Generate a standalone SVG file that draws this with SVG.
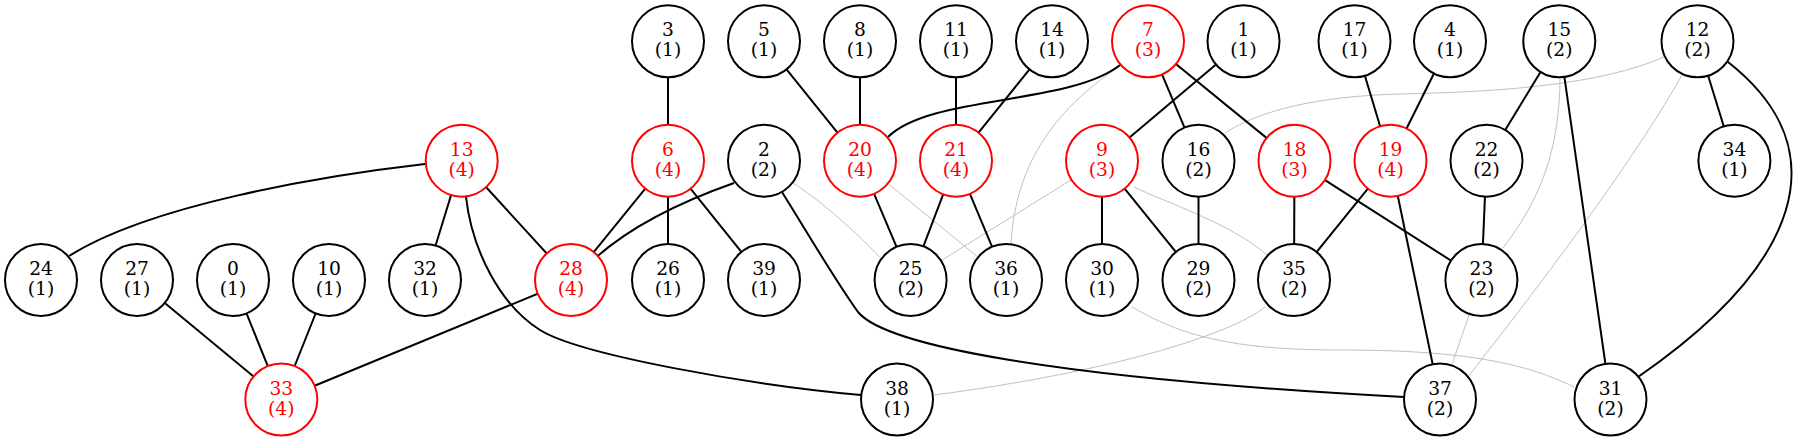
<svg xmlns="http://www.w3.org/2000/svg" width="1797" height="441" viewBox="0 0 1797 441">
<style>
.nd ellipse{fill:#fff;stroke:#000;stroke-width:2}
.nd text{font-family:"DejaVu Serif","Liberation Serif",serif;font-size:18.67px;text-anchor:middle;fill:#000}
.nd.r ellipse{stroke:#f00}
.nd.r text{fill:#f00}
.e{stroke:#000;stroke-width:2;fill:none}
.g{stroke:#c0c0c0;stroke-width:1;fill:none}
</style>
<rect width="1797" height="441" fill="#fff"/>
<g id="connectors">
<path class="g" d="M1122,65 C1060,105 1015,160 1011,245"/>
<path class="g" d="M793,183 C820,200 860,235 885,263"/>
<path class="g" d="M860,160.7 L1006,280"/>
<path class="g" d="M1102,160.7 L910,280"/>
<path class="g" d="M1134,187 C1160,200 1235,225 1268,256"/>
<path class="g" d="M1664,57 C1600,85 1500,92 1400,94 C1320,96 1260,110 1225,133"/>
<path class="g" d="M1560,76 C1560,150 1540,200 1503,248"/>
<path class="g" d="M1682,75 C1640,150 1560,260 1467,378"/>
<path class="g" d="M1481,280 L1440,399.5"/>
<path class="g" d="M1265,307 C1230,335 1110,372 934,395"/>
<path class="g" d="M1132,307 C1180,335 1230,350 1340,350 C1450,350 1520,360 1574,387"/>
<path class="e" d="M425,164 C320,176 150,205 69,256"/>
<path class="e" d="M461.7,160.5 L425,280"/>
<path class="e" d="M461.7,160.5 L571,280"/>
<path class="e" d="M466,197 C472,250 500,305 540,330 C580,355 750,385 861,395"/>
<path class="e" d="M668,160.7 L571,280"/>
<path class="e" d="M668,160.7 L668,280"/>
<path class="e" d="M668,160.7 L764,280"/>
<path class="e" d="M668,41.3 L668,160.7"/>
<path class="e" d="M734,183 C700,195 635,220 590,263"/>
<path class="e" d="M782,192 C810,237 835,280 858,312 C885,345 1050,378 1404,397"/>
<path class="e" d="M764,41.3 L860,160.7"/>
<path class="e" d="M860,41.3 L860,160.7"/>
<path class="e" d="M1120,65 C1070,105 930,95 888,137"/>
<path class="e" d="M956,41.3 L956,160.7"/>
<path class="e" d="M1052,41.3 L956,160.7"/>
<path class="e" d="M860,160.7 L910.6,280"/>
<path class="e" d="M956,160.7 L910.6,280"/>
<path class="e" d="M956,160.7 L1006,280"/>
<path class="e" d="M1148,41.3 L1198.5,160.7"/>
<path class="e" d="M1148,41.3 L1294.5,160.7"/>
<path class="e" d="M1243.5,41.3 L1102,160.7"/>
<path class="e" d="M1102,160.7 L1102,280"/>
<path class="e" d="M1102,160.7 L1198.5,280"/>
<path class="e" d="M1198.5,160.7 L1198.5,280"/>
<path class="e" d="M1294.5,160.7 L1294,280"/>
<path class="e" d="M1294.5,160.7 L1481.4,280"/>
<path class="e" d="M1390.5,160.7 L1294,280"/>
<path class="e" d="M1390.5,160.7 L1440,399.5"/>
<path class="e" d="M1354.5,41.3 L1390.5,160.7"/>
<path class="e" d="M1450,41.3 L1390.5,160.7"/>
<path class="e" d="M1559.3,41.3 L1486.5,160.7"/>
<path class="e" d="M1559.3,41.3 L1610.5,399.5"/>
<path class="e" d="M1486.5,160.7 L1481.4,280"/>
<path class="e" d="M1697.5,41.3 L1734.4,160.7"/>
<path class="e" d="M1728,62 C1840,150 1800,265 1638,377"/>
<path class="e" d="M137,280 L281.3,399.5"/>
<path class="e" d="M233,280 L281.3,399.5"/>
<path class="e" d="M329,280 L281.3,399.5"/>
<path class="e" d="M571,280 L281.3,399.5"/>
</g>
<g id="n3" class="nd"><ellipse cx="668" cy="41.3" rx="36" ry="36"/><text x="668" y="36.3">3</text><text x="668" y="56.3">(1)</text></g>
<g id="n5" class="nd"><ellipse cx="764" cy="41.3" rx="36" ry="36"/><text x="764" y="36.3">5</text><text x="764" y="56.3">(1)</text></g>
<g id="n8" class="nd"><ellipse cx="860" cy="41.3" rx="36" ry="36"/><text x="860" y="36.3">8</text><text x="860" y="56.3">(1)</text></g>
<g id="n11" class="nd"><ellipse cx="956" cy="41.3" rx="36" ry="36"/><text x="956" y="36.3">11</text><text x="956" y="56.3">(1)</text></g>
<g id="n14" class="nd"><ellipse cx="1052" cy="41.3" rx="36" ry="36"/><text x="1052" y="36.3">14</text><text x="1052" y="56.3">(1)</text></g>
<g id="n7" class="nd r"><ellipse cx="1148" cy="41.3" rx="36" ry="36"/><text x="1148" y="36.3">7</text><text x="1148" y="56.3">(3)</text></g>
<g id="n1" class="nd"><ellipse cx="1243.5" cy="41.3" rx="36" ry="36"/><text x="1243.5" y="36.3">1</text><text x="1243.5" y="56.3">(1)</text></g>
<g id="n17" class="nd"><ellipse cx="1354.5" cy="41.3" rx="36" ry="36"/><text x="1354.5" y="36.3">17</text><text x="1354.5" y="56.3">(1)</text></g>
<g id="n4" class="nd"><ellipse cx="1450" cy="41.3" rx="36" ry="36"/><text x="1450" y="36.3">4</text><text x="1450" y="56.3">(1)</text></g>
<g id="n15" class="nd"><ellipse cx="1559.3" cy="41.3" rx="36" ry="36"/><text x="1559.3" y="36.3">15</text><text x="1559.3" y="56.3">(2)</text></g>
<g id="n12" class="nd"><ellipse cx="1697.5" cy="41.3" rx="36" ry="36"/><text x="1697.5" y="36.3">12</text><text x="1697.5" y="56.3">(2)</text></g>
<g id="n13" class="nd r"><ellipse cx="461.7" cy="160.7" rx="36" ry="36"/><text x="461.7" y="155.7">13</text><text x="461.7" y="175.7">(4)</text></g>
<g id="n6" class="nd r"><ellipse cx="668" cy="160.7" rx="36" ry="36"/><text x="668" y="155.7">6</text><text x="668" y="175.7">(4)</text></g>
<g id="n2" class="nd"><ellipse cx="764" cy="160.7" rx="36" ry="36"/><text x="764" y="155.7">2</text><text x="764" y="175.7">(2)</text></g>
<g id="n20" class="nd r"><ellipse cx="860" cy="160.7" rx="36" ry="36"/><text x="860" y="155.7">20</text><text x="860" y="175.7">(4)</text></g>
<g id="n21" class="nd r"><ellipse cx="956" cy="160.7" rx="36" ry="36"/><text x="956" y="155.7">21</text><text x="956" y="175.7">(4)</text></g>
<g id="n9" class="nd r"><ellipse cx="1102" cy="160.7" rx="36" ry="36"/><text x="1102" y="155.7">9</text><text x="1102" y="175.7">(3)</text></g>
<g id="n16" class="nd"><ellipse cx="1198.5" cy="160.7" rx="36" ry="36"/><text x="1198.5" y="155.7">16</text><text x="1198.5" y="175.7">(2)</text></g>
<g id="n18" class="nd r"><ellipse cx="1294.5" cy="160.7" rx="36" ry="36"/><text x="1294.5" y="155.7">18</text><text x="1294.5" y="175.7">(3)</text></g>
<g id="n19" class="nd r"><ellipse cx="1390.5" cy="160.7" rx="36" ry="36"/><text x="1390.5" y="155.7">19</text><text x="1390.5" y="175.7">(4)</text></g>
<g id="n22" class="nd"><ellipse cx="1486.5" cy="160.7" rx="36" ry="36"/><text x="1486.5" y="155.7">22</text><text x="1486.5" y="175.7">(2)</text></g>
<g id="n34" class="nd"><ellipse cx="1734.4" cy="160.7" rx="36" ry="36"/><text x="1734.4" y="155.7">34</text><text x="1734.4" y="175.7">(1)</text></g>
<g id="n24" class="nd"><ellipse cx="41" cy="280" rx="36" ry="36"/><text x="41" y="275">24</text><text x="41" y="295">(1)</text></g>
<g id="n27" class="nd"><ellipse cx="137" cy="280" rx="36" ry="36"/><text x="137" y="275">27</text><text x="137" y="295">(1)</text></g>
<g id="n0" class="nd"><ellipse cx="233" cy="280" rx="36" ry="36"/><text x="233" y="275">0</text><text x="233" y="295">(1)</text></g>
<g id="n10" class="nd"><ellipse cx="329" cy="280" rx="36" ry="36"/><text x="329" y="275">10</text><text x="329" y="295">(1)</text></g>
<g id="n32" class="nd"><ellipse cx="425" cy="280" rx="36" ry="36"/><text x="425" y="275">32</text><text x="425" y="295">(1)</text></g>
<g id="n28" class="nd r"><ellipse cx="571" cy="280" rx="36" ry="36"/><text x="571" y="275">28</text><text x="571" y="295">(4)</text></g>
<g id="n26" class="nd"><ellipse cx="668" cy="280" rx="36" ry="36"/><text x="668" y="275">26</text><text x="668" y="295">(1)</text></g>
<g id="n39" class="nd"><ellipse cx="764" cy="280" rx="36" ry="36"/><text x="764" y="275">39</text><text x="764" y="295">(1)</text></g>
<g id="n25" class="nd"><ellipse cx="910.6" cy="280" rx="36" ry="36"/><text x="910.6" y="275">25</text><text x="910.6" y="295">(2)</text></g>
<g id="n36" class="nd"><ellipse cx="1006" cy="280" rx="36" ry="36"/><text x="1006" y="275">36</text><text x="1006" y="295">(1)</text></g>
<g id="n30" class="nd"><ellipse cx="1102" cy="280" rx="36" ry="36"/><text x="1102" y="275">30</text><text x="1102" y="295">(1)</text></g>
<g id="n29" class="nd"><ellipse cx="1198.5" cy="280" rx="36" ry="36"/><text x="1198.5" y="275">29</text><text x="1198.5" y="295">(2)</text></g>
<g id="n35" class="nd"><ellipse cx="1294" cy="280" rx="36" ry="36"/><text x="1294" y="275">35</text><text x="1294" y="295">(2)</text></g>
<g id="n23" class="nd"><ellipse cx="1481.4" cy="280" rx="36" ry="36"/><text x="1481.4" y="275">23</text><text x="1481.4" y="295">(2)</text></g>
<g id="n33" class="nd r"><ellipse cx="281.3" cy="399.5" rx="36" ry="36"/><text x="281.3" y="394.5">33</text><text x="281.3" y="414.5">(4)</text></g>
<g id="n38" class="nd"><ellipse cx="897" cy="399.5" rx="36" ry="36"/><text x="897" y="394.5">38</text><text x="897" y="414.5">(1)</text></g>
<g id="n37" class="nd"><ellipse cx="1440" cy="399.5" rx="36" ry="36"/><text x="1440" y="394.5">37</text><text x="1440" y="414.5">(2)</text></g>
<g id="n31" class="nd"><ellipse cx="1610.5" cy="399.5" rx="36" ry="36"/><text x="1610.5" y="394.5">31</text><text x="1610.5" y="414.5">(2)</text></g>
</svg>
